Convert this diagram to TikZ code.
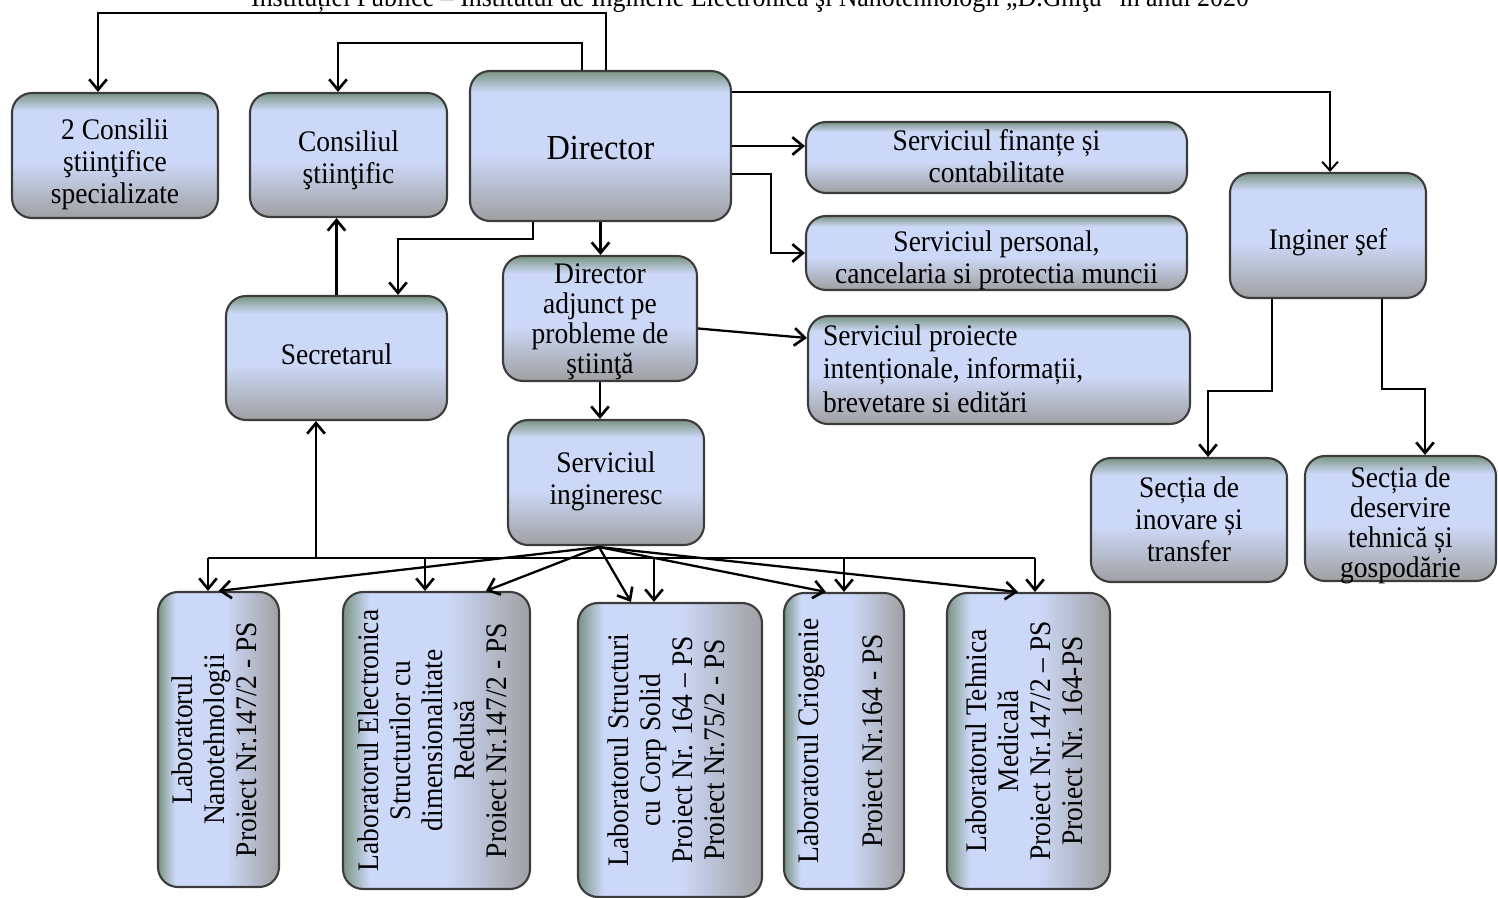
\documentclass[tikz,border=0pt]{standalone}
\usepackage{fontspec}
\setmainfont{Liberation Serif}[FakeStretch=0.92]
\usetikzlibrary{arrows.meta,calc}
\definecolor{boxgreen}{RGB}{122,148,130}
\definecolor{boxblue}{RGB}{204,216,247}
\definecolor{boxgray}{RGB}{160,160,162}
\definecolor{boxline}{RGB}{60,60,60}
\pgfdeclareverticalshading{boxshade}{100bp}{color(0bp)=(boxgray); color(25bp)=(boxgray); color(47bp)=(boxblue); color(68bp)=(boxblue); color(75bp)=(boxgreen); color(100bp)=(boxgreen)}
\newlength\upx
\setlength\upx{0.02cm}
\newcommand\lowr[2]{\raisebox{-#1\upx}[\height][\depth]{#2}}
\newcommand\tb[1]{\begin{tabular}{@{}c@{}}#1\end{tabular}}
\begin{document}
\begin{tikzpicture}[x=0.02cm,y=-0.02cm,
  box/.style={draw=boxline, line width=1.2pt, rounded corners=0.4cm, shade, shading=boxshade, inner sep=1pt, font=\fontsize{17}{18.2}\selectfont},
  sz/.style 2 args={minimum width=#1*0.02cm, minimum height=#2*0.02cm},
  lab/.style={box, shading angle=90},
  conn/.style={line width=1.3pt, -{Straight Barb[length=6pt,width=10pt,line width=1.5pt]}},
  thinconn/.style={line width=0.7pt, -{Straight Barb[length=5pt,width=9pt,line width=1.1pt]}},
  plain/.style={line width=1.3pt}]
\useasboundingbox (0,0) rectangle (1498,898);

\node[font=\fontsize{16}{18}\selectfont, anchor=base] (title) at (750,7) {Instituției Publice – Institutul de Inginerie Electronică şi Nanotehnologii „D.Ghiţu” în anul 2020};

\node[box, sz={206}{125}] (cons2) at (115,155.5) {\lowr{10}{\tb{2 Consilii\\ştiinţifice\\specializate}}};
\node[box, sz={197}{124}] (cons) at (348.5,155) {\lowr{6}{\tb{Consiliul\\ştiinţific}}};
\node[box, sz={261}{150}, font=\fontsize{20}{22}\selectfont] (dir) at (600.5,146) {\lowr{2}{Director}};
\node[box, sz={381}{71}] (fin) at (996.5,157.5) {\lowr{3}{\tb{Serviciul finanțe și\\contabilitate}}};
\node[box, sz={381}{74}] (pers) at (996.5,253) {\lowr{8}{\tb{Serviciul personal,\\cancelaria si protectia muncii}}};
\node[box, sz={382}{108}, font=\fontsize{17}{19}\selectfont] (proi) at (999,370) {\lowr{2}{\begin{tabular}{@{}p{7.04cm}@{}}Serviciul proiecte\\intenționale, informații,\\brevetare si editări\end{tabular}}};
\node[box, sz={196}{125}] (ing) at (1328,235.5) {\lowr{7}{Inginer şef}};
\node[box, sz={221}{124}] (sec) at (336.5,358) {\lowr{-4}{Secretarul}};
\node[box, sz={194}{125}, font=\fontsize{17}{17}\selectfont] (adj) at (600,318.5) {\lowr{4}{\tb{Director\\adjunct pe\\probleme de\\ştiinţă}}};
\node[box, sz={196}{125}] (sing) at (606,482.5) {\tb{Serviciul\\ingineresc}};
\node[box, sz={196}{124}] (inov) at (1189,520) {\lowr{3}{\tb{Secția de\\inovare și\\transfer}}};
\node[box, sz={191}{125}, font=\fontsize{17}{17}\selectfont] (deserv) at (1400.5,518.5) {\lowr{8}{\tb{Secția de\\deservire\\tehnică și\\gospodărie}}};

\node[lab, sz={121}{295}] (lab1) at (218.5,739.5) {\rotatebox{90}{\tb{Laboratorul\\Nanotehnologii\\Proiect Nr.147/2 - PS}}};
\node[lab, sz={187}{297}] (lab2) at (436.5,740.5) {\rotatebox{90}{\tb{Laboratorul Electronica\\Structurilor cu\\dimensionalitate\\Redusă\\Proiect Nr.147/2 - PS}}};
\node[lab, sz={184}{294}] (lab3) at (670,750) {\rotatebox{90}{\tb{Laboratorul Structuri\\cu Corp Solid\\Proiect Nr. 164 – PS\\Proiect Nr.75/2 - PS}}};
\node[lab, sz={120}{296}] (lab4) at (844,741) {\rotatebox{90}{\tb{Laboratorul Criogenie\\ \\Proiect Nr.164 - PS}}};
\node[lab, sz={163}{296}] (lab5) at (1028.5,741) {\rotatebox{90}{\tb{Laboratorul Tehnica\\Medicală\\Proiect Nr.147/2 – PS\\Proiect Nr. 164-PS}}};

% connectors from Director
\draw[conn] ($(dir.north)+(5.5,0)$) -- ++(0,-57) -| ($(cons2.north)+(-17,0)$);
\draw[conn] ($(dir.north)+(-18.5,0)$) -- ++(0,-27) -| ($(cons.north)+(-10.5,0)$);
\draw[thinconn] ($(dir.east)+(0,-54)$) -| ($(ing.north)+(2,0)$);
\draw[conn] (dir.east) -- (dir.east -| fin.west);
\draw[conn] ($(dir.east)+(0,28)$) -- ++(39,0) |- (pers.west);
\draw[conn] ($(dir.south)+(-67.5,0)$) -- ++(0,17) -| ($(sec.north)+(61.5,0)$);
\draw[conn] (dir.south) -- (dir.south |- adj.north);
\draw[conn] (sec.north) -- (sec.north |- cons.south);
\draw[conn] ($(adj.east)+(0,10)$) -- ($(proi.west)+(0,-32)$);
\draw[conn] (adj.south) -- (adj.south |- sing.north);
\draw[conn] ($(ing.south)+(-56,0)$) -- ++(0,92) -| ($(inov.north)+(19,0)$);
\draw[conn] ($(ing.south)+(54,0)$) -- ++(0,90) -| ($(deserv.north)+(24.5,0)$);

% bus to laboratories
\coordinate (bus) at (0,558);
\coordinate (t1) at ($(lab1.north)+(-10.5,0)$);
\coordinate (t2) at ($(lab2.north)+(-11.5,0)$);
\coordinate (t3) at ($(lab3.north)+(-16,0)$);
\coordinate (t4) at ($(lab4.north)+(0,0)$);
\coordinate (t5) at ($(lab5.north)+(6.5,0)$);
\coordinate (s1) at ($(sec.south)+(-20.5,0)$);
\draw[plain] (t1 |- bus) -- (t5 |- bus);
\foreach \i in {1,...,5} {\draw[conn] (t\i |- bus) -- (t\i);}
\draw[conn] (s1 |- bus) -- (s1);

% diagonals from Serviciul ingineresc
\coordinate (src) at ($(sing.south)+(-7,1)$);
\draw[conn] (src) -- ($(lab1.north)+(0,0)$);
\draw[conn] (src) -- ($(lab2.north)+(49.5,0)$);
\draw[conn] (src) -- ($(lab3.north)+(-39,0)$);
\draw[conn] (src) -- ($(lab4.north)+(-18,0)$);
\draw[conn] (src) -- ($(lab5.north)+(-10.5,0)$);
\end{tikzpicture}
\end{document}
